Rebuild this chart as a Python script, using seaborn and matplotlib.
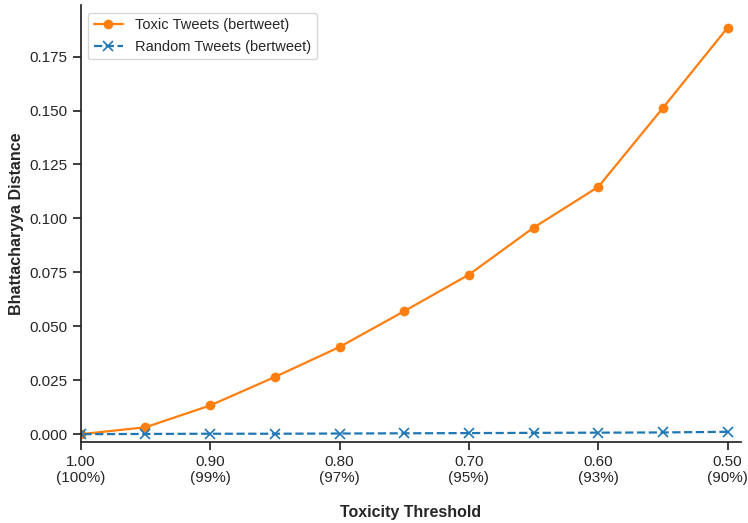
import numpy as np
import pandas as pd
import matplotlib
matplotlib.use("Agg")
import matplotlib.pyplot as plt
import seaborn as sns

thresholds = [1.00, 0.95, 0.90, 0.85, 0.80, 0.75, 0.70, 0.65, 0.60, 0.55, 0.50]
toxic = [0.0, 0.0032, 0.0133, 0.0265, 0.0404, 0.0570, 0.0739, 0.0957, 0.1146, 0.1512, 0.1884]
random_tw = [0.0, 0.0001, 0.0002, 0.0002, 0.0003, 0.0004, 0.0005, 0.0006, 0.0007, 0.0008, 0.0011]
tick_vals = [1.00, 0.90, 0.80, 0.70, 0.60, 0.50]
tick_labels = ["1.00\n(100%)", "0.90\n(99%)", "0.80\n(97%)", "0.70\n(95%)", "0.60\n(93%)", "0.50\n(90%)"]

sns.set_theme(style="ticks")
plt.rcParams["font.family"] = ["Liberation Sans", "DejaVu Sans"]

df = pd.DataFrame({"threshold": thresholds, "toxic": toxic, "random": random_tw})

fig, ax = plt.subplots(figsize=(7.48, 5.23), dpi=100)
sns.lineplot(data=df, x="threshold", y="toxic", marker="o", markersize=7, markeredgewidth=0,
             color="#ff7f0e", linewidth=1.6, label="Toxic Tweets (bertweet)", ax=ax)
sns.lineplot(data=df, x="threshold", y="random", marker="x", markersize=6.5, markeredgewidth=1.2,
             markeredgecolor="#1f77b4", color="#1f77b4", linewidth=1.6, linestyle="--",
             label="Random Tweets (bertweet)", ax=ax)

ax.set_xlim(1.0, 0.49)
ax.set_ylim(-0.0036, 0.1988)
ax.set_xticks(tick_vals)
ax.set_xticklabels(tick_labels, fontsize=11)
ax.set_yticks([0.0, 0.025, 0.05, 0.075, 0.1, 0.125, 0.15, 0.175])
ax.set_yticklabels([f"{v:.3f}" for v in ax.get_yticks()], fontsize=11)
ax.tick_params(length=6)
ax.set_xlabel("Toxicity Threshold", fontsize=11.5, fontweight="bold", labelpad=14)
ax.set_ylabel("Bhattacharyya Distance", fontsize=11.5, fontweight="bold")
ax.legend(loc="upper left", fontsize=10.5, frameon=True)
sns.despine(ax=ax)

fig.subplots_adjust(left=0.108, right=0.99, top=0.99, bottom=0.155)
fig.savefig("out.png", dpi=100)
